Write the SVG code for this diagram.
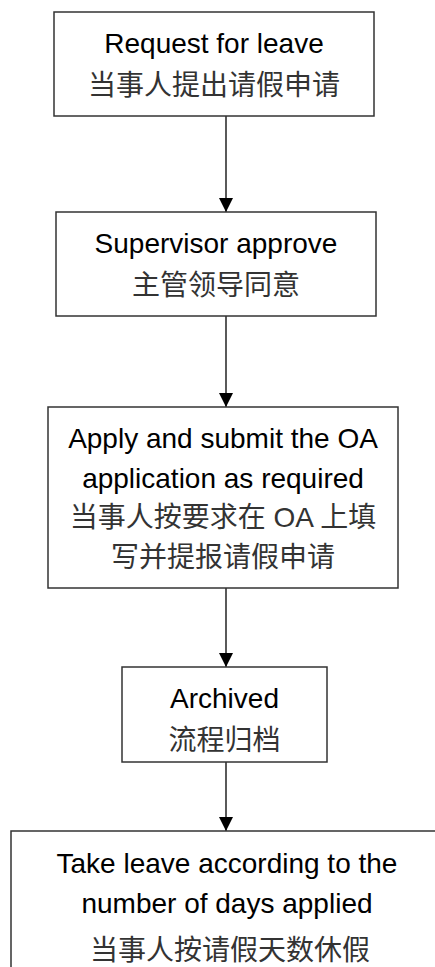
<svg xmlns="http://www.w3.org/2000/svg" width="435" height="967" viewBox="0 0 435 967">
<style>
.box{fill:#fff;stroke:#333;stroke-width:1.5}
.t{font-family:"Liberation Sans","Noto Sans CJK SC",sans-serif;font-size:28px;fill:#000;text-anchor:middle}
.c{fill:#333}
.edge{stroke:#000;stroke-width:1.3;fill:none}
</style>
<defs>
<marker id="arr" viewBox="0 0 14 14" refX="14" refY="7" markerWidth="14" markerHeight="14" markerUnits="userSpaceOnUse" orient="auto">
<path d="M0,0 L14,7 L0,14 Z" fill="#000"/>
</marker>
</defs>
<rect width="435" height="967" fill="#fff"/>
<g id="connectors">
<line class="edge" x1="226" y1="116" x2="226" y2="212" marker-end="url(#arr)"/>
<line class="edge" x1="226" y1="316" x2="226" y2="407" marker-end="url(#arr)"/>
<line class="edge" x1="226" y1="588" x2="226" y2="667" marker-end="url(#arr)"/>
<line class="edge" x1="226" y1="762" x2="226" y2="831" marker-end="url(#arr)"/>
</g>
<g id="n1">
<rect class="box" x="54" y="12" width="320" height="104"/>
<text class="t" x="214" y="53">Request for leave</text>
<text class="t c" x="214" y="95">当事人提出请假申请</text>
</g>
<g id="n2">
<rect class="box" x="56" y="212" width="320" height="104"/>
<text class="t" x="216" y="253">Supervisor approve</text>
<text class="t c" x="216" y="295">主管领导同意</text>
</g>
<g id="n3">
<rect class="box" x="48" y="407" width="350" height="181"/>
<text class="t" x="223" y="448">Apply and submit the OA</text>
<text class="t" x="223" y="488">application as required</text>
<text class="t c" x="223" y="527">当事人按要求在 OA 上填</text>
<text class="t c" x="223" y="567">写并提报请假申请</text>
</g>
<g id="n4">
<rect class="box" x="122" y="667" width="205" height="95"/>
<text class="t" x="224.5" y="708">Archived</text>
<text class="t c" x="224.5" y="750">流程归档</text>
</g>
<g id="n5">
<rect class="box" x="11" y="831" width="432" height="150"/>
<text class="t" x="227" y="873">Take leave according to the</text>
<text class="t" x="227" y="913">number of days applied</text>
<text class="t c" x="230" y="960">当事人按请假天数休假</text>
</g>
</svg>
